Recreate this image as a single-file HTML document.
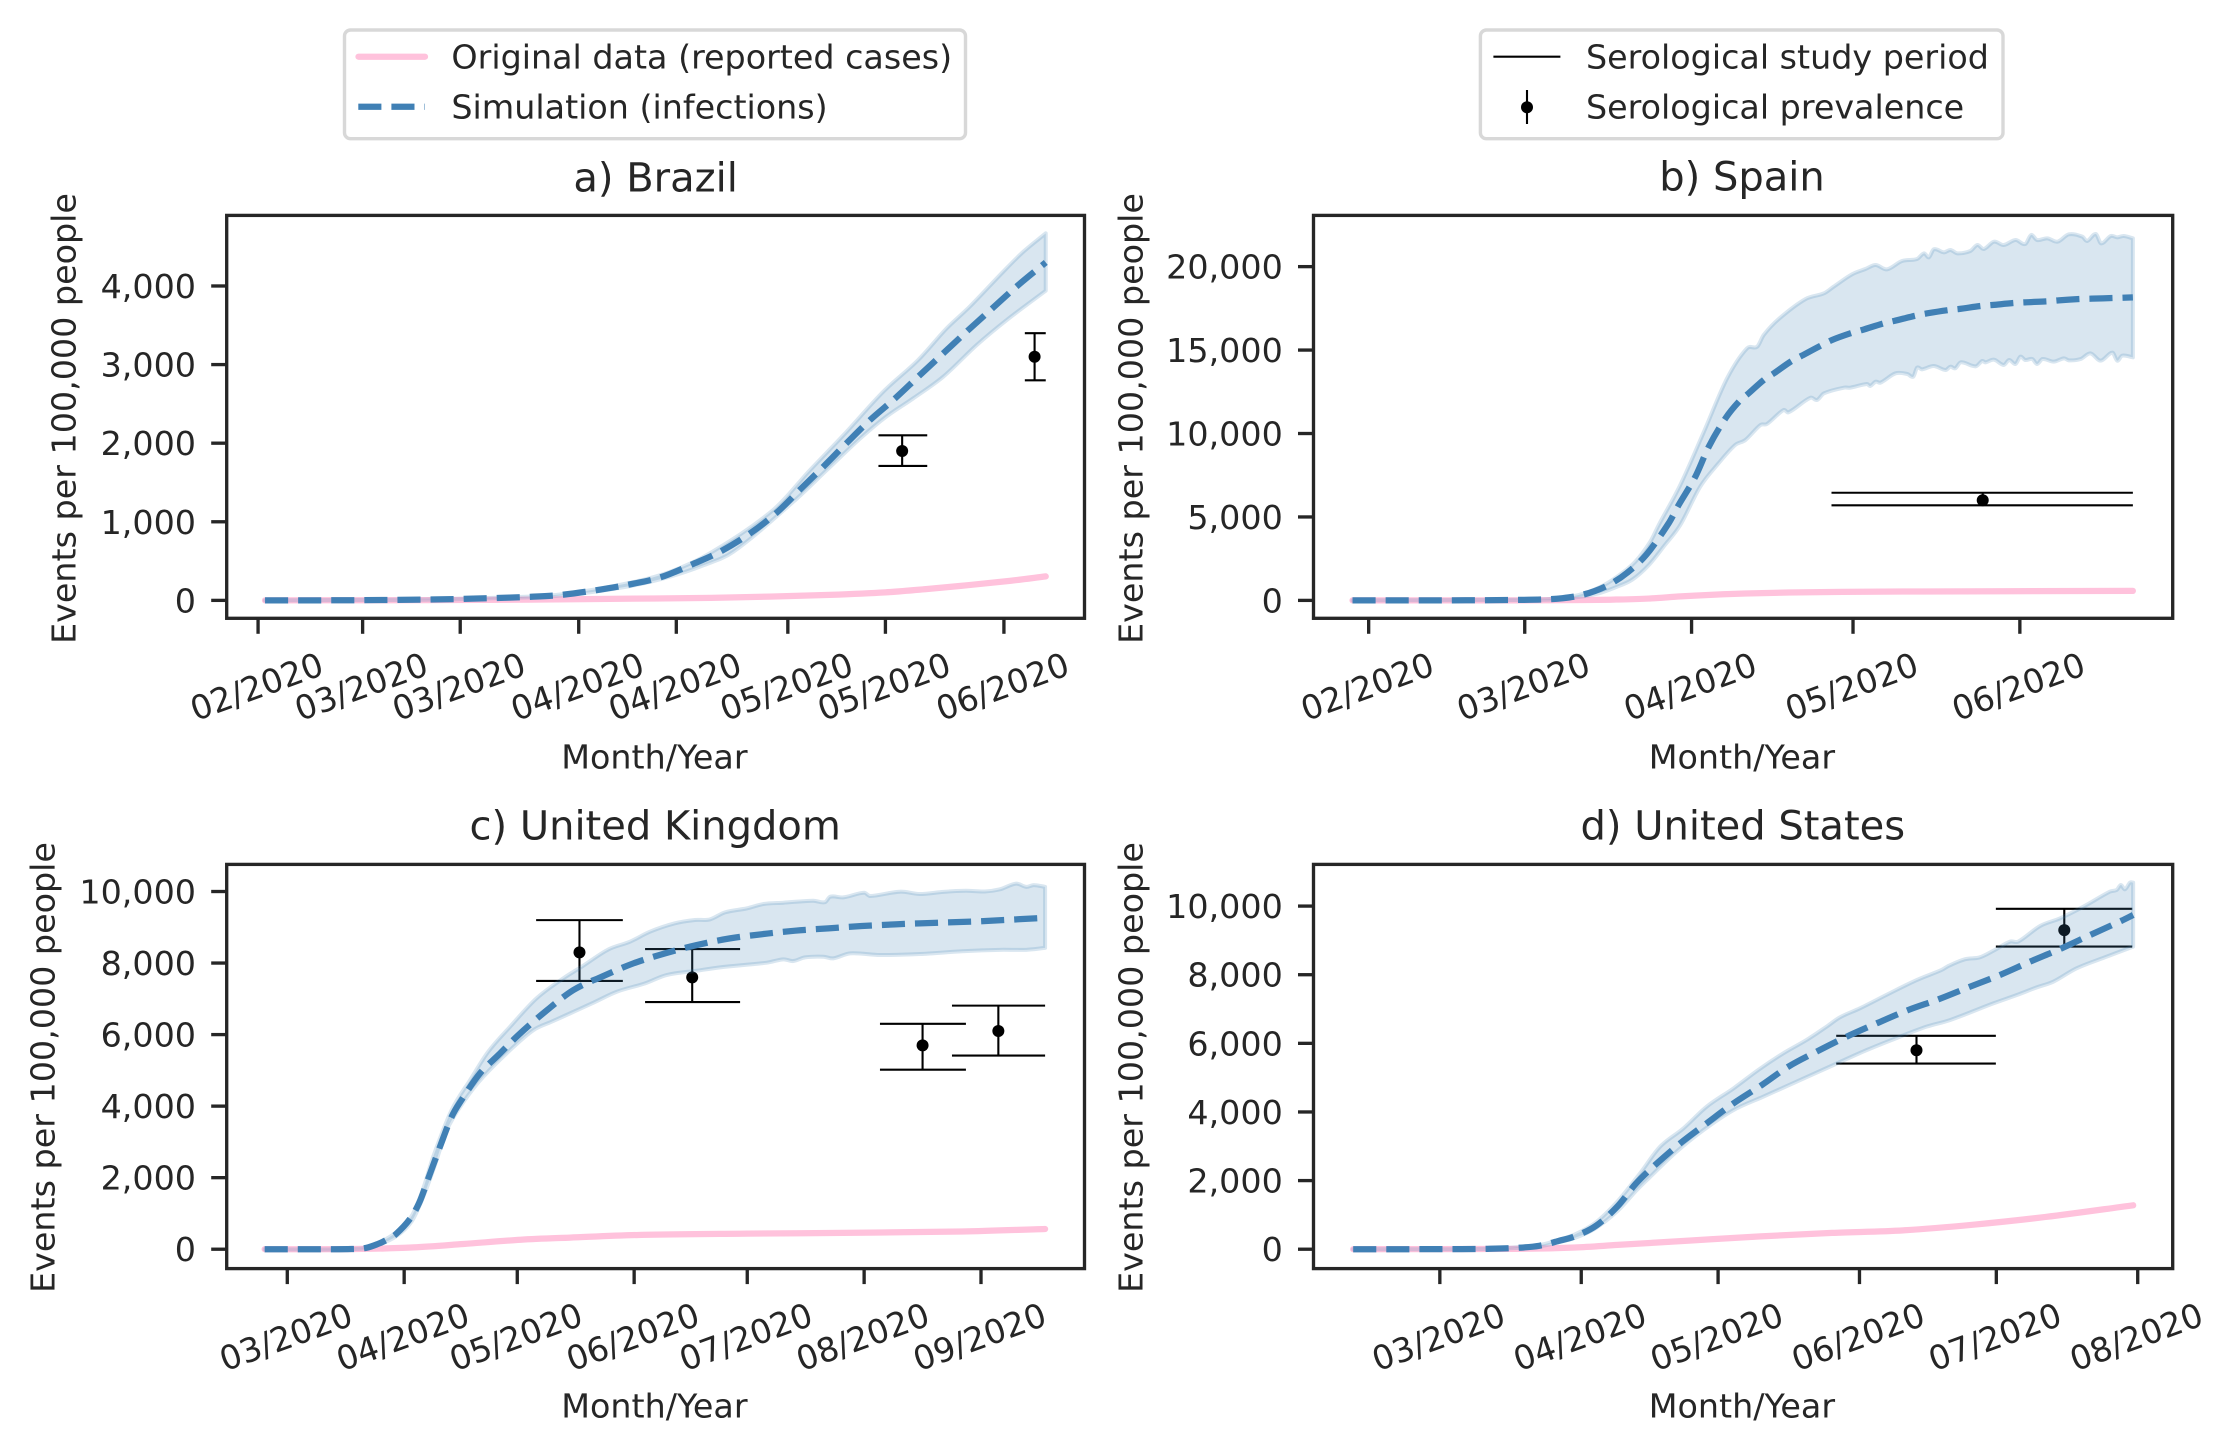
<!DOCTYPE html>
<html lang="en">
<head>
<meta charset="utf-8">
<title>Simulated infections vs reported cases</title>
<style>
html,body{margin:0;padding:0;background:#fff;}
svg{display:block;}
text{font-family:"DejaVu Sans","Liberation Sans",sans-serif;fill:#262626;}
.t8{font-size:33.33px;}
.t10{font-size:40px;}
.spine{fill:none;stroke:#262626;stroke-width:3.33;}
.lg{fill:#fff;stroke:#d8d8d8;stroke-width:3.4;}
</style>
</head>
<body>
<svg id="fig" xmlns="http://www.w3.org/2000/svg" width="2237" height="1455" viewBox="0 0 2237 1455">
<rect width="2237" height="1455" fill="#fff"/>

<g>
<rect class="lg" x="344.5" y="30" width="621" height="108.7" rx="6"/>
<line x1="358.5" y1="56.7" x2="425" y2="56.7" stroke="#ffc2dc" stroke-width="6.25" stroke-linecap="round"/>
<text class="t8" x="451.4" y="68.3">Original data (reported cases)</text>
<line x1="358.3" y1="106.7" x2="425" y2="106.7" stroke="#4080b5" stroke-width="6.25" stroke-dasharray="23.1 10"/>
<text class="t8" x="451.4" y="118.3">Simulation (infections)</text>
</g>

<g>
<rect class="lg" x="1480.4" y="30" width="522.6" height="108.7" rx="6"/>
<line x1="1493.4" y1="56.7" x2="1560.4" y2="56.7" stroke="#000" stroke-width="2.1"/>
<text class="t8" x="1586" y="68.3">Serological study period</text>
<line x1="1527" y1="90" x2="1527" y2="124" stroke="#000" stroke-width="2.1"/>
<circle cx="1527" cy="107.3" r="6" fill="#000"/>
<text class="t8" x="1586" y="118.3">Serological prevalence</text>
</g>

<g>
<g id="marks-a"></g>
<rect class="spine" x="226.7" y="215.4" width="857.8" height="402.9"/>
<g id="ticks-a"></g>
<text class="t10" x="655.6" y="191.5" text-anchor="middle">a) Brazil</text>
<text class="t8" x="654.4" y="768.3" text-anchor="middle">Month/Year</text>
<text class="t8" transform="translate(75.7 418.5) rotate(-90)" text-anchor="middle">Events per 100,000 people</text>
</g>

<g>
<g id="marks-b"></g>
<rect class="spine" x="1313.5" y="215.4" width="859.2" height="402.9"/>
<g id="ticks-b"></g>
<text class="t10" x="1742" y="190.5" text-anchor="middle">b) Spain</text>
<text class="t8" x="1741.9" y="768.3" text-anchor="middle">Month/Year</text>
<text class="t8" transform="translate(1142.7 418.5) rotate(-90)" text-anchor="middle">Events per 100,000 people</text>
</g>

<g>
<g id="marks-c"></g>
<rect class="spine" x="226.7" y="864.4" width="857.8" height="404.2"/>
<g id="ticks-c"></g>
<text class="t10" x="655.2" y="839.6" text-anchor="middle">c) United Kingdom</text>
<text class="t8" x="654.4" y="1417.6" text-anchor="middle">Month/Year</text>
<text class="t8" transform="translate(54.6 1067.5) rotate(-90)" text-anchor="middle">Events per 100,000 people</text>
</g>

<g>
<g id="marks-d"></g>
<rect class="spine" x="1313.5" y="864.4" width="859.2" height="404.2"/>
<g id="ticks-d"></g>
<text class="t10" x="1742.8" y="839.6" text-anchor="middle">d) United States</text>
<text class="t8" x="1741.9" y="1417.6" text-anchor="middle">Month/Year</text>
<text class="t8" transform="translate(1142.7 1067.5) rotate(-90)" text-anchor="middle">Events per 100,000 people</text>
</g>
</svg>

<script>
/* All x values are day-of-year in 2020; y values are events per 100,000 people. */

/* ---------- a) Brazil ---------- */
const brazilTickDays = [46,61,75,92,106,122,136,153];
const brazilTickLabels = ["02/2020","03/2020","03/2020","04/2020","04/2020","05/2020","05/2020","06/2020"];
const brazilYTicks = [0,1000,2000,3000,4000];
const brazilReportedDays = [47,70,85,100,111,120,128,136,142,148,154,159];
const brazilReported = [0,3,10,22,32,50,70,102,145,195,250,305];
const brazilMeanDays = [47,60,70,75,80,85,89.3,94.1,98.9,103.7,108.4,112.3,116.6,120.4,123.7,127.1,130.4,133.8,137.4,140.7,144.3,147.9,151.4,154.8,159];
const brazilMean = [0,2,10,18,30,45,68,124,196,293,463,620,853,1116,1405,1701,1998,2295,2571,2846,3143,3440,3720,3992,4300];
const brazilUpperDays = [47,70,80,89.3,98.9,105,110.8,119.9,125.2,130,135.7,140.7,144.8,148.1,152.9,155.8,159];
const brazilUpper = [0,12,33,75,215,360,599,1150,1659,2104,2656,3058,3462,3737,4182,4437,4670];
const brazilLowerDays = [47,70,80,89.3,98.9,105,110,114.2,122.8,127.6,132.4,136,140,144.3,149.1,153.4,159];
const brazilLower = [0,8,27,60,175,300,450,620,1256,1659,2062,2330,2571,2846,3249,3567,3940];
const brazilSeroStart = [135,156];
const brazilSeroEnd = [142,159];
const brazilSeroMid = [138.4,157.4];
const brazilSeroValue = [1900,3100];
const brazilSeroLow = [1710,2800];
const brazilSeroHigh = [2100,3400];

/* ---------- b) Spain ---------- */
const spainTickDays = [32,61,92,122,153];
const spainTickLabels = ["02/2020","03/2020","04/2020","05/2020","06/2020"];
const spainYTicks = [0,5000,10000,15000,20000];
const spainReportedDays = [29,65,72,78,84,90,96,102,110,120,135,150,174];
const spainReported = [0,5,20,50,110,240,340,410,470,510,535,550,570];
const spainMeanDays = [29,40,50,60,65,68,71,74,77,80,83.6,87.7,89.6,92.7,95.2,98.3,100.8,102.6,105.4,107.3,110.4,112.5,116,118.1,121.5,123.7,127.7,129.6,133.6,135.8,139.8,141.7,145.7,147.9,151.9,154,158.1,160.2,164.3,166.4,170.5,174];
const spainMean = [0,0,5,30,60,130,280,560,1000,1650,2740,4600,5716,7414,9212,10910,11908,12408,13206,13606,14305,14665,15264,15604,16003,16203,16602,16742,17062,17202,17401,17461,17641,17701,17821,17861,17921,17981,18061,18081,18121,18161];
const spainUpperDays = [29,60,66,71,75,78.3,81.5,84.3,85.9,89.9,94.3,98.6,102.3,104.2,105.4,108.2,113.2,116.6,118.4,121.8,124.3,126.2,128.3,131.1,133.9,135.2,136.1,137,138.9,140.1,141.4,143.8,145.1,146.3,148.2,150,152.2,154,155.1,156.2,158.1,160,162.1,164.6,165.5,167.1,168.1,169.9,171.1,172.3,174];
const spainUpper = [0,35,90,320,800,1450,2300,3500,4518,6915,10110,13307,15104,15204,15903,16862,18060,18400,18800,19539,19858,20098,19838,20338,20458,20797,20557,21037,20857,20997,20797,20937,21296,21057,21496,21296,21596,21356,21896,21596,21696,21496,21936,21796,21536,21956,21396,21836,21756,21836,21696];
const spainLowerDays = [29,60,66,71,75,78,81,84,87,89.9,93.6,97,100.1,102,104.8,106,109.1,110,114.1,115.3,116.6,120.3,121.5,124.6,125.2,126.2,127.1,129.9,132.1,133.2,133.9,134.8,137,139.2,140.1,141,142,144.8,146,146.6,148.2,150,151,152.2,153.1,154,155.3,156.2,157.2,159.3,161.2,162.1,164.3,166.1,168,170.2,171.1,172,174];
const spainLower = [0,25,50,200,450,800,1250,2100,3300,4518,6815,8213,9311,9611,10510,10570,11409,11269,12148,12008,12407,12747,12747,12967,12847,13107,13047,13606,13566,13406,13946,13846,14046,13806,14006,13906,14266,14026,14345,14265,14425,14106,14405,14165,14605,14405,14465,14165,14465,14305,14505,14385,14465,14805,14365,14845,14365,14665,14565];
const spainSeroStart = [118];
const spainSeroEnd = [174];
const spainSeroMid = [146.1];
const spainSeroValue = [6000];
const spainSeroLow = [5700];
const spainSeroHigh = [6450];

/* ---------- c) United Kingdom ---------- */
const ukTickDays = [61,92,122,153,183,214,245];
const ukTickLabels = ["03/2020","04/2020","05/2020","06/2020","07/2020","08/2020","09/2020"];
const ukYTicks = [0,2000,4000,6000,8000,10000];
const ukReportedDays = [55,79,94.5,107.7,122.9,136,155,183,212,240,262];
const ukReported = [0,5,50,145,265,325,400,435,460,495,565];
const ukMeanDays = [55,70,78,82,85,87.5,89.8,93.5,96,98.4,101.5,104.6,107.2,112.1,117,122.3,129.4,136.9,144.4,152.8,161.2,169.6,178.4,187.3,195.7,204.5,213.4,222.2,228.8,245,262];
const ukMean = [0,0,5,40,145,270,420,840,1300,1980,2866,3705,4170,4916,5429,5988,6640,7246,7618,7991,8271,8504,8690,8811,8905,8970,9035,9082,9110,9170,9265];
const ukUpperDays = [55,80,85,90,94,97,99.7,104.6,109.5,114.3,120.1,127.1,134.2,139.1,146.2,151.9,157.2,163.8,169.1,173.1,177.1,182.9,187.3,192.6,200.5,203.6,205,208.5,214,215.6,223.5,228.8,235,241,246,250,254.3,257,259,262];
const ukUpper = [0,12,170,480,930,1680,2586,3891,4730,5522,6221,7013,7572,7898,8383,8597,8877,9110,9203,9221,9417,9529,9650,9687,9743,9700,9855,9836,9967,9874,9995,9930,9990,10020,10000,10060,10220,10130,10180,10130];
const ukLowerDays = [55,80,85,90,94,97,100,103.3,108.1,113,120.1,126.3,131.1,136,142.2,148.4,155.9,161.6,169.6,175.8,188.2,192.6,195.2,198.3,203.2,205.8,210.3,218.2,228.8,240,250,257,262];
const ukLower = [0,8,120,370,780,1450,2300,3332,4170,4823,5568,6127,6360,6593,6892,7199,7432,7665,7786,7880,8010,8103,8056,8159,8178,8131,8271,8224,8252,8330,8370,8370,8423];
const ukSeroStart = [127,155.9,218.2,237.3];
const ukSeroEnd = [150,181.1,241,262];
const ukSeroMid = [138.5,168.4,229.5,249.6];
const ukSeroValue = [8300,7600,5700,6100];
const ukSeroLow = [7500,6910,5020,5415];
const ukSeroHigh = [9200,8390,6300,6810];

/* ---------- d) United States ---------- */
const usTickDays = [61,92,122,153,183,214];
const usTickLabels = ["03/2020","04/2020","05/2020","06/2020","07/2020","08/2020"];
const usYTicks = [0,2000,4000,6000,8000,10000];
const usReportedDays = [42,78,90.6,100,115.6,131.3,147,162.6,178,193.8,213];
const usReported = [0,10,50,125,250,375,475,550,715,940,1280];
const usMeanDays = [42,60,72,78,82.8,87,90.6,95.3,100,103.9,108.2,113.7,119.5,125.4,131.6,137.4,143.6,150.2,156.8,163.7,170.3,176.9,183.8,190.4,197.3,203.6,210.5,213];
const usMean = [0,2,12,40,100,240,376,690,1255,1900,2455,3086,3669,4252,4786,5320,5758,6195,6584,6972,7283,7633,7992,8381,8769,9158,9576,9741];
const usUpperDays = [42,72,82.8,87,90.6,95,100,104.9,109.3,114.4,119.5,125.4,130.8,136.3,141.4,145.8,148.7,153.1,159.3,165.6,171,172.5,176.1,179.4,182.4,186,187.8,192.6,197,202.1,207.9,209.4,210.3,211.2,212.3,213];
const usUpper = [0,15,120,270,430,760,1400,2212,2989,3523,4155,4689,5223,5709,6098,6487,6758,7021,7438,7847,8138,8255,8449,8507,8701,8964,8964,9420,9644,9984,10421,10470,10615,10489,10683,10683];
const usLowerDays = [42,72,82.8,87,90.6,95,100,104,106.4,112.9,118.8,125.4,131.9,139.2,147.3,154.6,161.9,167.7,172.9,182.4,187.5,191.9,195.5,200.6,207.2,213];
const usLower = [0,10,85,200,330,600,1120,1700,2018,2843,3475,4058,4446,4883,5369,5806,6195,6486,6681,7167,7409,7633,7798,8187,8527,8818];
const usSeroStart = [147.9,182.9];
const usSeroEnd = [182.9,212.8];
const usSeroMid = [165.5,197.9];
const usSeroValue = [5800,9300];
const usSeroLow = [5410,8820];
const usSeroHigh = [6220,9920];

const SVG_NS = 'http://www.w3.org/2000/svg';

function node(tag, parent) {
  const el = document.createElementNS(SVG_NS, tag);
  parent.appendChild(el);
  return el;
}

/* Smooth curve through the data points (finite-difference Hermite in pixel space). */
function curvePath(days, vals, xf, yf, first) {
  const xs = days.map(xf);
  const ys = vals.map(yf);
  const n = xs.length;
  const slope = function (i) {
    const a = Math.max(i - 1, 0);
    const b = Math.min(i + 1, n - 1);
    return (ys[b] - ys[a]) / (xs[b] - xs[a]);
  };
  let d = first + xs[0].toFixed(2) + ' ' + ys[0].toFixed(2);
  for (let i = 0; i < n - 1; i++) {
    const dx = (xs[i + 1] - xs[i]) / 3;
    d += 'C' + (xs[i] + dx).toFixed(2) + ' ' + (ys[i] + slope(i) * dx).toFixed(2) +
         ' ' + (xs[i + 1] - dx).toFixed(2) + ' ' + (ys[i + 1] - slope(i + 1) * dx).toFixed(2) +
         ' ' + xs[i + 1].toFixed(2) + ' ' + ys[i + 1].toFixed(2);
  }
  return d;
}

function reversedDays(days) {
  return days.slice().reverse();
}

function drawPanel(p) {
  const xf = function (d) { return p.left + (d - p.xMin) / (p.xMax - p.xMin) * (p.right - p.left); };
  const yf = function (v) { return p.bottom - (v - p.yMin) / (p.yMax - p.yMin) * (p.bottom - p.top); };
  const marks = document.getElementById('marks-' + p.id);
  const ticks = document.getElementById('ticks-' + p.id);

  /* serological study markers */
  p.seroMid.forEach(function (mid, i) {
    const top = node('line', marks);
    
    
    top.setAttribute('x1', xf(p.seroStart[i]));
    top.setAttribute('x2', xf(p.seroEnd[i]));
    top.setAttribute('y1', yf(p.seroHigh[i]));
    top.setAttribute('y2', yf(p.seroHigh[i]));
    top.setAttribute('stroke', '#000');
    top.setAttribute('stroke-width', '2.1');

    const bot = node('line', marks);
    
    
    bot.setAttribute('x1', xf(p.seroStart[i]));
    bot.setAttribute('x2', xf(p.seroEnd[i]));
    bot.setAttribute('y1', yf(p.seroLow[i]));
    bot.setAttribute('y2', yf(p.seroLow[i]));
    bot.setAttribute('stroke', '#000');
    bot.setAttribute('stroke-width', '2.1');

    const bar = node('line', marks);
    
    
    bar.setAttribute('x1', xf(mid));
    bar.setAttribute('x2', xf(mid));
    bar.setAttribute('y1', yf(p.seroLow[i]));
    bar.setAttribute('y2', yf(p.seroHigh[i]));
    bar.setAttribute('stroke', '#000');
    bar.setAttribute('stroke-width', '2.1');

    const dot = node('circle', marks);
    
    
    dot.setAttribute('cx', xf(mid));
    dot.setAttribute('cy', yf(p.seroValue[i]));
    dot.setAttribute('r', '6');
    dot.setAttribute('fill', '#000');
  });

  /* reported cases */
  const reported = node('path', marks);
  
  
  reported.setAttribute('d', curvePath(p.reportedDays, p.reported, xf, yf, 'M'));
  reported.setAttribute('fill', 'none');
  reported.setAttribute('stroke', '#ffc2dc');
  reported.setAttribute('stroke-width', '6.25');
  reported.setAttribute('stroke-linecap', 'round');
  reported.setAttribute('stroke-linejoin', 'round');

  /* uncertainty band */
  const band = node('path', marks);
  
  
  const upperPart = curvePath(p.upperDays, p.upper, xf, yf, 'M');
  const lowerPart = curvePath(reversedDays(p.lowerDays), p.lower.slice().reverse(), xf, yf, 'L');
  band.setAttribute('d', upperPart + lowerPart + 'Z');
  band.setAttribute('fill', '#4080b5');
  band.setAttribute('fill-opacity', '0.2');
  band.setAttribute('stroke', '#4080b5');
  band.setAttribute('stroke-opacity', '0.2');
  band.setAttribute('stroke-width', '4');
  band.setAttribute('stroke-linejoin', 'round');

  /* simulation mean */
  const mean = node('path', marks);
  
  
  mean.setAttribute('d', curvePath(p.meanDays, p.mean, xf, yf, 'M'));
  mean.setAttribute('fill', 'none');
  mean.setAttribute('stroke', '#4080b5');
  mean.setAttribute('stroke-width', '6.25');
  mean.setAttribute('stroke-dasharray', '23.1 10');
  mean.setAttribute('stroke-linejoin', 'round');

  /* x axis */
  p.tickDays.forEach(function (d, i) {
    const x = xf(d);
    const t = node('line', ticks);
    
    
    t.setAttribute('x1', x);
    t.setAttribute('x2', x);
    t.setAttribute('y1', p.bottom);
    t.setAttribute('y2', p.bottom + 15.5);
    t.setAttribute('stroke', '#262626');
    t.setAttribute('stroke-width', '3.33');

    const label = node('text', ticks);
    
    
    label.setAttribute('class', 't8');
    label.setAttribute('text-anchor', 'middle');
    label.setAttribute('transform', 'translate(' + (x - 1.5) + ' ' + (p.bottom + 68) + ') rotate(-20) translate(0 12)');
    label.textContent = p.tickLabels[i];
  });

  /* y axis */
  p.yTicks.forEach(function (v) {
    const y = yf(v);
    const t = node('line', ticks);
    
    
    t.setAttribute('x1', p.left - 15.5);
    t.setAttribute('x2', p.left);
    t.setAttribute('y1', y);
    t.setAttribute('y2', y);
    t.setAttribute('stroke', '#262626');
    t.setAttribute('stroke-width', '3.33');

    const label = node('text', ticks);
    
    
    label.setAttribute('class', 't8');
    label.setAttribute('text-anchor', 'end');
    label.setAttribute('x', p.left - 30.7);
    label.setAttribute('y', y + 12);
    label.textContent = v.toLocaleString('en-US');
  });
}

drawPanel({
  id: 'a', left: 226.7, right: 1084.5, top: 215.4, bottom: 618.3,
  xMin: 41.5, xMax: 164.56, yMin: -228, yMax: 4898,
  tickDays: brazilTickDays, tickLabels: brazilTickLabels, yTicks: brazilYTicks,
  reportedDays: brazilReportedDays, reported: brazilReported,
  meanDays: brazilMeanDays, mean: brazilMean,
  upperDays: brazilUpperDays, upper: brazilUpper,
  lowerDays: brazilLowerDays, lower: brazilLower,
  seroStart: brazilSeroStart, seroEnd: brazilSeroEnd, seroMid: brazilSeroMid,
  seroValue: brazilSeroValue, seroLow: brazilSeroLow, seroHigh: brazilSeroHigh
});
drawPanel({
  id: 'b', left: 1313.5, right: 2172.7, top: 215.4, bottom: 618.3,
  xMin: 21.75, xMax: 181.4, yMin: -1073, yMax: 23070,
  tickDays: spainTickDays, tickLabels: spainTickLabels, yTicks: spainYTicks,
  reportedDays: spainReportedDays, reported: spainReported,
  meanDays: spainMeanDays, mean: spainMean,
  upperDays: spainUpperDays, upper: spainUpper,
  lowerDays: spainLowerDays, lower: spainLower,
  seroStart: spainSeroStart, seroEnd: spainSeroEnd, seroMid: spainSeroMid,
  seroValue: spainSeroValue, seroLow: spainSeroLow, seroHigh: spainSeroHigh
});
drawPanel({
  id: 'c', left: 226.7, right: 1084.5, top: 864.4, bottom: 1268.6,
  xMin: 44.93, xMax: 272.45, yMin: -542, yMax: 10758,
  tickDays: ukTickDays, tickLabels: ukTickLabels, yTicks: ukYTicks,
  reportedDays: ukReportedDays, reported: ukReported,
  meanDays: ukMeanDays, mean: ukMean,
  upperDays: ukUpperDays, upper: ukUpper,
  lowerDays: ukLowerDays, lower: ukLower,
  seroStart: ukSeroStart, seroEnd: ukSeroEnd, seroMid: ukSeroMid,
  seroValue: ukSeroValue, seroLow: ukSeroLow, seroHigh: ukSeroHigh
});
drawPanel({
  id: 'd', left: 1313.5, right: 2172.7, top: 864.4, bottom: 1268.6,
  xMin: 33.3, xMax: 221.67, yMin: -565, yMax: 11215,
  tickDays: usTickDays, tickLabels: usTickLabels, yTicks: usYTicks,
  reportedDays: usReportedDays, reported: usReported,
  meanDays: usMeanDays, mean: usMean,
  upperDays: usUpperDays, upper: usUpper,
  lowerDays: usLowerDays, lower: usLower,
  seroStart: usSeroStart, seroEnd: usSeroEnd, seroMid: usSeroMid,
  seroValue: usSeroValue, seroLow: usSeroLow, seroHigh: usSeroHigh
});
</script>
</body>
</html>
